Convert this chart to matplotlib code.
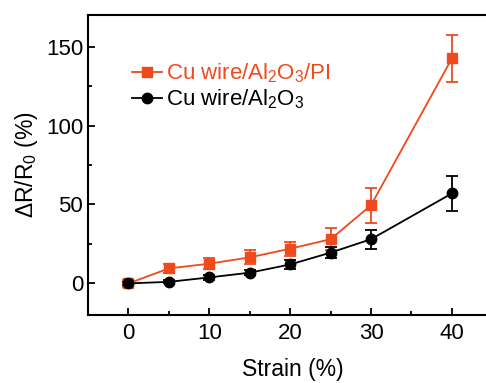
import numpy as np
import matplotlib
matplotlib.use('Agg')
from matplotlib import pyplot as plt
from matplotlib.ticker import MultipleLocator

plt.rcParams['font.family'] = ['Liberation Sans', 'DejaVu Sans']
plt.rcParams['mathtext.fontset'] = 'custom'
plt.rcParams['mathtext.rm'] = 'Liberation Sans'
plt.rcParams['mathtext.it'] = 'Liberation Sans'
plt.rcParams['font.size'] = 16

# data
strain = [0, 5, 10, 15, 20, 25, 30, 40]
pi_vals = [0, 9.5, 12.5, 16.5, 22, 28, 49.5, 142.5]
pi_err = [2, 3, 3.5, 4.5, 4.5, 7, 11, 15]
al_vals = [0, 1, 3.8, 6.8, 12, 19.5, 28, 57]
al_err = [1, 1, 1.5, 1.5, 3, 3.5, 6, 11]

orange = '#EE4A1E'

fig = plt.figure(figsize=(4.86, 3.83), dpi=100)
ax = fig.add_axes([88/486, 1 - 315/383, (498-88)/486, 300/383])

e1 = ax.errorbar(strain, pi_vals, yerr=pi_err, color=orange, marker='s', markersize=6.5,
                 lw=1.3, capsize=4, elinewidth=1.3, capthick=1.3)
e2 = ax.errorbar(strain, al_vals, yerr=al_err, color='black', marker='o', markersize=7.5,
                 lw=1.3, capsize=4, elinewidth=1.3, capthick=1.3)

ax.set_xlim(-5, 45.7)
ax.set_ylim(-20, 170)
ax.xaxis.set_major_locator(MultipleLocator(10))
ax.xaxis.set_minor_locator(MultipleLocator(5))
ax.yaxis.set_major_locator(MultipleLocator(50))
ax.yaxis.set_minor_locator(MultipleLocator(25))
ax.tick_params(which='both', direction='in', width=1.3)
ax.tick_params(which='major', length=5, labelsize=16)
ax.tick_params(axis='x', which='major', pad=6)
ax.tick_params(which='minor', length=3)
for s in ax.spines.values():
    s.set_linewidth(1.5)

ax.set_xlabel('Strain (%)', fontsize=16.5, labelpad=10)
ax.set_ylabel(r'$\Delta$R/R$_0$ (%)', fontsize=16.5, labelpad=4)

leg = ax.legend([e1[0], e2[0]], ['Cu wire/Al$_2$O$_3$/PI', 'Cu wire/Al$_2$O$_3$'],
                loc='upper left', bbox_to_anchor=(0.085, 0.875), frameon=False,
                fontsize=16, handlelength=1.35, handletextpad=0.2, labelspacing=0.12,
                borderaxespad=0)
for txt, c in zip(leg.get_texts(), [orange, 'black']):
    txt.set_color(c)

fig.savefig('out.png', dpi=100)
